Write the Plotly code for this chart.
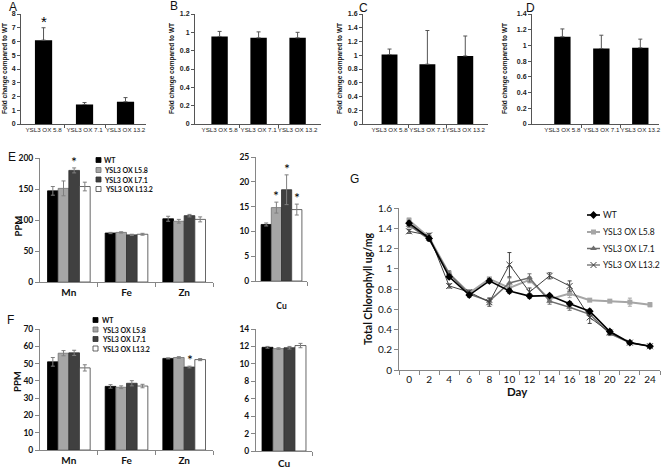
import plotly.graph_objects as go

W, H = 662, 475
def X(p): return p / W
def Y(p): return 1 - p / H

ARIAL = "Liberation Sans, Arial, sans-serif"
CAL = "Lato, Carlito, sans-serif"

# ---------------- data ----------------
fc_labels = ["YSL3 OX 5.8", "YSL3 OX 7.1", "YSL3 OX 13.2"]
a_vals = [6.1, 1.42, 1.62]
a_err = [0.9, 0.14, 0.3]
b_vals = [0.955, 0.94, 0.94]
b_err = [0.055, 0.065, 0.06]
c_vals = [1.01, 0.87, 0.99]
c_err = [0.08, 0.49, 0.29]
d_vals = [1.11, 0.96, 0.97]
d_err = [0.1, 0.17, 0.11]

elements = ["Mn", "Fe", "Zn"]
cu_label = ["Cu"]
lines = ["WT", "YSL3 OX L5.8", "YSL3 OX L7.1", "YSL3 OX L13.2"]

# E (per line: Mn, Fe, Zn)
e_vals = [[147, 79, 102], [151, 80, 98], [180, 76, 107], [154, 77, 101]]
e_errs = [[7, 1, 4], [12, 1, 3], [4, 1, 2], [7, 1.5, 4]]
e_cu = [11.4, 14.8, 18.4, 14.4]
e_cu_err = [0.3, 1.1, 3.0, 1.1]
# F
f_vals = [[51, 36.8, 53], [56, 36.3, 53.5], [56.2, 38.6, 48], [47.5, 37, 52.3]]
f_errs = [[2.5, 1, 0.3], [1.5, 0.8, 0.5], [1.5, 1.5, 0.5], [1.8, 1, 0.6]]
f_cu = [11.9, 11.75, 11.85, 12.1]
f_cu_err = [0.1, 0.1, 0.15, 0.25]

# G
days = [0, 2, 4, 6, 8, 10, 12, 14, 16, 18, 20, 22, 24]
g_wt = [1.45, 1.30, 0.92, 0.74, 0.88, 0.78, 0.73, 0.735, 0.655, 0.58, 0.38, 0.27, 0.235]
g_l58 = [1.48, 1.31, 0.95, 0.76, 0.90, 0.81, 0.89, 0.70, 0.755, 0.69, 0.68, 0.67, 0.645]
g_l71 = [1.43, 1.29, 0.95, 0.75, 0.68, 0.86, 0.91, 0.68, 0.62, 0.55, 0.36, 0.27, 0.235]
g_l132 = [1.37, 1.33, 0.83, 0.77, 0.67, 1.04, 0.77, 0.93, 0.83, 0.52, 0.37, 0.27, 0.235]
g_wt_err = [0.02, 0.02, 0.02, 0.02, 0.02, 0.02, 0.02, 0.01, 0.02, 0.02, 0.02, 0.01, 0.01]
g_l58_err = [0.02, 0.02, 0.02, 0.02, 0.01, 0.03, 0.03, 0.03, 0.04, 0.01, 0.01, 0.04, 0.02]
g_l71_err = [0.02, 0.02, 0.03, 0.02, 0.03, 0.05, 0.04, 0.03, 0.03, 0.02, 0.02, 0.01, 0.01]
g_l132_err = [0.02, 0.02, 0.02, 0.02, 0.04, 0.12, 0.04, 0.03, 0.05, 0.06, 0.02, 0.01, 0.01]

# ---------------- styles ----------------
bar_fill = ["#000000", "#a6a6a6", "#404040", "#ffffff"]
bar_edge = ["#000000", "#6f6f6f", "#303030", "#404040"]
AXC = "#868686"

fig = go.Figure()
layout = {}
annotations = []
shapes = []

def axname(n, kind):
    return kind if n == 1 else f"{kind}{n}"

# ---------------- panels A-D ----------------
fc_panels = [
    ("A", a_vals, a_err, (21, 146), (-0.55, 2.5), 8, 1, [0]),
    ("B", b_vals, b_err, (195, 321), (-0.63, 2.6), 1.2, 0.2, []),
    ("C", c_vals, c_err, (363, 488), (-0.7, 2.6), 1.6, 0.2, []),
    ("D", d_vals, d_err, (532, 659), (-0.78, 2.48), 1.4, 0.2, []),
]
label_pos = {"A": (7, 7), "B": (168, 6), "C": (357, 8), "D": (524, 8)}
title_x = {"A": 5, "B": 172, "C": 340, "D": 505}

for n, (lab, vals, errs, dom, rng, ymax, dt, stars) in enumerate(fc_panels, start=1):
    xa, ya = axname(n, "x"), axname(n, "y")
    fig.add_trace(go.Bar(
        x=list(range(len(fc_labels))), y=vals, width=0.42,
        marker=dict(color="#000000", line=dict(width=0)),
        error_y=dict(type="data", array=errs, arrayminus=[0] * len(errs),
                     color="#555555", thickness=1, width=2),
        xaxis=xa, yaxis=ya, showlegend=False))
    layout[axname(n, "xaxis")] = dict(
        domain=[X(dom[0]), X(dom[1])], range=list(rng), anchor=ya,
        tickvals=list(range(len(fc_labels))), ticktext=fc_labels, tickangle=0,
        ticks="", showline=True, linecolor="#555555", linewidth=1,
        showgrid=False, zeroline=False, automargin=False,
        tickfont=dict(family=ARIAL, size=6.2, color="#222"),
        minor=dict(tickvals=[0.5, 1.5], ticks="outside", ticklen=3, tickcolor="#555555"))
    layout[axname(n, "yaxis")] = dict(
        domain=[Y(124), Y(14)], range=[0, ymax], dtick=dt, anchor=xa,
        ticks="outside", ticklen=3, tickcolor="#555555",
        showline=True, linecolor="#555555", linewidth=1,
        showgrid=False, zeroline=False, automargin=False,
        tickfont=dict(family=ARIAL, size=7, color="#222", weight="bold"))
    lx, ly = label_pos[lab]
    annotations.append(dict(text=lab, x=X(lx), y=Y(ly), xref="paper", yref="paper",
                            xanchor="left", yanchor="middle", showarrow=False,
                            font=dict(family=ARIAL, size=12, color="#111")))
    annotations.append(dict(text="Fold change compared to WT", textangle=-90,
                            x=X(title_x[lab]), y=Y(69), xref="paper", yref="paper",
                            xanchor="center", yanchor="middle", showarrow=False,
                            font=dict(family=ARIAL, size=6.5, color="#111", weight="bold")))
    for s in stars:
        annotations.append(dict(text="*", x=s, y=vals[s] + errs[s], xref=xa, yref=ya,
                                yanchor="bottom", yshift=-4, showarrow=False,
                                font=dict(family=ARIAL, size=15, color="#000")))

# ---------------- panels E and F ----------------
def grouped(n, vals_list, errs_list, cats, group, dom_x, dom_y, ymax, dt, stars,
            lab_std=1, catfont=10):
    xa, ya = axname(n, "x"), axname(n, "y")
    w = group / 4
    for i in range(4):
        off = -group / 2 + i * w
        fig.add_trace(go.Bar(
            x=list(range(len(cats))), y=vals_list[i], offset=off, width=w,
            marker=dict(color=bar_fill[i], line=dict(width=0.8, color=bar_edge[i])),
            error_y=dict(type="data", array=errs_list[i], color="#7f7f7f",
                         thickness=1, width=2),
            name=lines[i], xaxis=xa, yaxis=ya, showlegend=False))
    for (ci, li) in stars:
        xs = ci - group / 2 + (li + 0.5) * w
        annotations.append(dict(text="*", x=xs, y=vals_list[li][ci] + errs_list[li][ci],
                                xref=xa, yref=ya, yanchor="bottom", yshift=-4,
                                showarrow=False,
                                font=dict(family=CAL, size=14, color="#000")))
    layout[axname(n, "xaxis")] = dict(
        domain=[X(dom_x[0]), X(dom_x[1])], range=[-0.5, len(cats) - 0.5], anchor=ya,
        tickvals=list(range(len(cats))), ticktext=cats, ticks="", tickangle=0,
        ticklabelstandoff=lab_std, automargin=False,
        showline=True, linecolor=AXC, linewidth=1, showgrid=False, zeroline=False,
        tickfont=dict(family=CAL, size=catfont, color="#111", weight="bold"),
        minor=dict(tickvals=[k + 0.5 for k in range(len(cats))], ticks="outside",
                   ticklen=4, tickcolor=AXC))
    layout[axname(n, "yaxis")] = dict(
        domain=[Y(dom_y[0]), Y(dom_y[1])], range=[0, ymax], dtick=dt, anchor=xa,
        ticks="outside", ticklen=4, tickcolor=AXC, automargin=False,
        showline=True, linecolor=AXC, linewidth=1, showgrid=False, zeroline=False,
        tickfont=dict(family=CAL, size=8.5, color="#111", weight="bold"))

# E main & Cu
grouped(5, e_vals, e_errs, elements, 0.74, (40, 213), (282, 158), 200, 50, [(0, 2)])
e_cu_vals = [[v] for v in e_cu]
e_cu_errs = [[v] for v in e_cu_err]
grouped(6, e_cu_vals, e_cu_errs, cu_label, 0.8, (256, 307), (281, 157), 25, 5,
        [(0, 1), (0, 2), (0, 3)], lab_std=17, catfont=8.5)
# F main & Cu
grouped(7, f_vals, f_errs, elements, 0.74, (40, 213), (450, 329), 70, 10, [(2, 2)])
f_cu_vals = [[v] for v in f_cu]
f_cu_errs = [[v] for v in f_cu_err]
grouped(8, f_cu_vals, f_cu_errs, cu_label, 0.785, (256, 312), (451, 329), 14, 2, [],
        lab_std=3, catfont=10)

for lab, (lx, ly) in {"E": (6, 157), "F": (5, 320), "G": (348, 179)}.items():
    annotations.append(dict(text=lab, x=X(lx), y=Y(ly), xref="paper", yref="paper",
                            xanchor="left", yanchor="middle", showarrow=False,
                            font=dict(family=ARIAL, size=12, color="#111")))
for (tx, ty) in [(10, 226), (10, 394)]:
    annotations.append(dict(text="PPM", textangle=-90, x=X(tx), y=Y(ty),
                            xref="paper", yref="paper", showarrow=False,
                            font=dict(family=CAL, size=9.5, color="#111", weight="bold")))

# manual legends for E and F
def bar_legend(x0, ys):
    for i, yy in enumerate(ys):
        shapes.append(dict(type="rect", xref="paper", yref="paper",
                           x0=X(x0), x1=X(x0 + 5), y0=Y(yy + 2.5), y1=Y(yy - 2.5),
                           fillcolor=bar_fill[i], line=dict(width=0.8, color=bar_edge[i])))
        annotations.append(dict(text=lines[i], x=X(x0 + 6.5), y=Y(yy), xref="paper",
                                yref="paper", xanchor="left", yanchor="middle",
                                showarrow=False,
                                font=dict(family=CAL, size=7, color="#111", weight="bold")))
bar_legend(96, [160, 170, 179.5, 189])
bar_legend(93, [320, 329.5, 339, 348.5])

# ---------------- panel G ----------------
g_series = [
    ("YSL3 OX L5.8", g_l58, g_l58_err, "#a6a6a6", 2, dict(symbol="square", size=5, color="#a6a6a6")),
    ("YSL3 OX L7.1", g_l71, g_l71_err, "#6e6e6e", 1.5, dict(symbol="triangle-up", size=6, color="#6e6e6e")),
    ("YSL3 OX L13.2", g_l132, g_l132_err, "#404040", 1, dict(symbol="x-thin", size=6, line=dict(width=1, color="#404040"))),
    ("WT", g_wt, g_wt_err, "#000000", 1.6, dict(symbol="diamond", size=6, color="#000000")),
]
for name, vals, errs, col, lw, mk in g_series:
    fig.add_trace(go.Scatter(
        x=days, y=vals, mode="lines+markers", name=name,
        line=dict(color=col, width=lw), marker=mk,
        error_y=dict(type="data", array=errs, color=col, thickness=1, width=2),
        xaxis="x9", yaxis="y9", showlegend=False))

layout["xaxis9"] = dict(
    domain=[X(399), X(660)], range=[-1, 25], anchor="y9",
    tickvals=days, ticks="", tickangle=0, showline=True, linecolor=AXC, linewidth=1,
    showgrid=False, zeroline=False, automargin=False,
    tickfont=dict(family=CAL, size=10, color="#111"),
    minor=dict(tickvals=list(range(-1, 26, 2)), ticks="outside", ticklen=4, tickcolor=AXC))
layout["yaxis9"] = dict(
    domain=[Y(370), Y(208)], range=[0, 1.6], dtick=0.2, anchor="x9",
    ticks="outside", ticklen=4, tickcolor=AXC, automargin=False,
    showline=True, linecolor=AXC, linewidth=1, showgrid=False, zeroline=False,
    tickfont=dict(family=CAL, size=10, color="#111"))
annotations.append(dict(text="Total Chlorophyll ug/mg", textangle=-90, x=X(368), y=Y(289),
                        xref="paper", yref="paper", showarrow=False,
                        font=dict(family=CAL, size=10.5, color="#111", weight="bold")))
annotations.append(dict(text="Day", x=X(530), y=Y(400), xref="paper", yref="paper",
                        showarrow=False,
                        font=dict(family=CAL, size=11.5, color="#111", weight="bold")))

# manual legend for G on a hidden helper axis (pixel-like units)
leg_order = [3, 0, 1, 2]
leg_y = [215, 232, 248.5, 265]
for k, idx in enumerate(leg_order):
    name, vals, errs, col, lw, mk = g_series[idx]
    fig.add_trace(go.Scatter(x=[0, 1], y=[leg_y[k], leg_y[k]], mode="lines",
                             line=dict(color=col, width=lw), xaxis="x10", yaxis="y10",
                             showlegend=False, hoverinfo="skip"))
    fig.add_trace(go.Scatter(x=[0.5], y=[leg_y[k]], mode="markers", marker=mk,
                             xaxis="x10", yaxis="y10", showlegend=False, hoverinfo="skip"))
    annotations.append(dict(text=name, x=1, y=leg_y[k], xref="x10", yref="y10",
                            xanchor="left", yanchor="middle", xshift=1, showarrow=False,
                            font=dict(family=CAL, size=8.5, color="#111")))
layout["xaxis10"] = dict(domain=[X(587), X(600)], range=[0, 1], visible=False,
                         anchor="y10", fixedrange=True)
layout["yaxis10"] = dict(domain=[Y(280), Y(200)], range=[280, 200], visible=False,
                         anchor="x10", fixedrange=True)

fig.update_layout(
    width=W, height=H, margin=dict(l=0, r=0, t=0, b=0, autoexpand=False),
    paper_bgcolor="white", plot_bgcolor="white",
    barmode="overlay", showlegend=False,
    annotations=annotations, shapes=shapes,
    font=dict(family=CAL, color="#111"),
    **layout)

fig.write_html(
    "out.html",
    config={"displayModeBar": False},
    post_script="document.body.style.margin='0';document.body.style.overflow='hidden';",
)
